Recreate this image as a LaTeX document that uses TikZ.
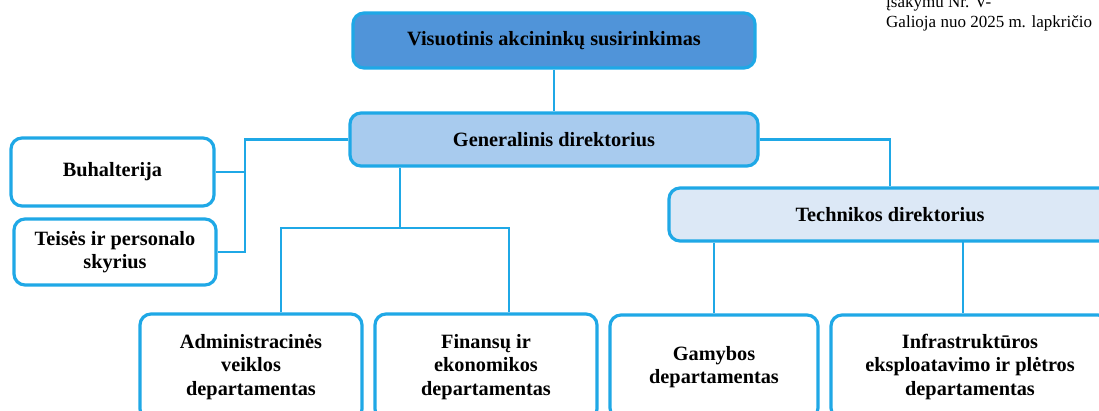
\documentclass[tikz,border=0pt]{standalone}
\usepackage{fontspec}
\setmainfont{Liberation Serif}
\definecolor{bord}{HTML}{1FA8E6}
\definecolor{topfill}{HTML}{5094D9}
\definecolor{genfill}{HTML}{A8CBEE}
\definecolor{techfill}{HTML}{DCE8F6}
\tikzset{
  box/.style={draw=bord, line width=3.2pt, rounded corners=11pt, align=center,
    font=\fontsize{20.3}{23.5}\selectfont\bfseries, text=black, inner sep=0pt, anchor=center},
  link/.style={draw=bord, line width=2.6pt},
  note/.style={font=\fontsize{17}{19}\selectfont, anchor=west, inner sep=0pt}
}
\begin{document}
\begin{tikzpicture}[x=1pt,y=1pt]
\useasboundingbox (0,0) rectangle (1099,-411);
\clip (0,0) rectangle (1099,-411);
% notes
\node[note] (n1) at (886,-3) {įsakymu Nr. V-};
\node[note] (n2) at (886,-23) {Galioja nuo 2025 m. lapkričio};
% boxes
\node[box, fill=topfill, minimum width=402pt, minimum height=55pt] (vis) at (554,-40.5) {Visuotinis akcininkų susirinkimas};
\node[box, fill=genfill, minimum width=408pt, minimum height=53pt] (gen) at (554,-139.5) {Generalinis direktorius};
\node[box, fill=white, minimum width=203pt, minimum height=68pt] (buh) at (112.5,-172) {Buhalterija};
\node[box, fill=white, minimum width=202pt, minimum height=66pt] (teis) at (115,-252) {Teisės ir personalo\\skyrius};
\node[box, fill=techfill, minimum width=442pt, minimum height=53pt] (tech) at (890,-214.5) {Technikos direktorius};
\node[box, fill=white, minimum width=222pt, minimum height=106pt] (adm) at (251,-367) {Administracinės\\veiklos\\departamentas};
\node[box, fill=white, minimum width=222pt, minimum height=106pt] (fin) at (486,-367) {Finansų ir\\ekonomikos\\departamentas};
\node[box, fill=white, minimum width=208pt, minimum height=104pt] (gam) at (714,-367) {Gamybos\\departamentas};
\node[box, fill=white, minimum width=278pt, minimum height=104pt] (inf) at (970,-367) {Infrastruktūros\\eksploatavimo ir plėtros\\departamentas};
% connector coordinates
\coordinate (lb) at (245,-139.5);
\coordinate (ga) at (400,-228);
\coordinate (a1) at (281,-228);
\coordinate (a2) at (509,-228);
\coordinate (t2) at (963,-241);
% connectors
\draw[link] (vis.south) -- (gen.north);
\draw[link] (gen.west) -- (lb) |- (teis.east);
\draw[link] (buh.east) -- (buh.east -| lb);
\draw[link] (gen.east) -| (tech.north);
\draw[link] (ga |- gen.south) -- (ga);
\draw[link] (a1 |- adm.north) -- (a1) -- (a2) -- (a2 |- fin.north);
\draw[link] (tech.south -| gam.north) -- (gam.north);
\draw[link] (t2) -- (t2 |- inf.north);
\end{tikzpicture}
\end{document}
